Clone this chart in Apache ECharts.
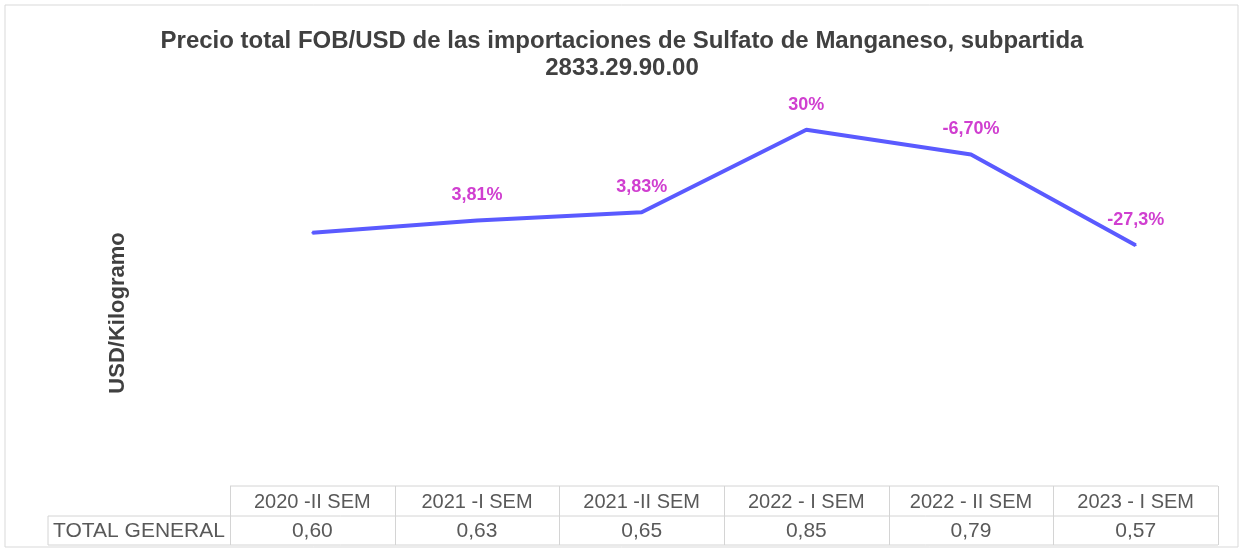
<!DOCTYPE html>
<html>
<head>
<meta charset="utf-8">
<script src="https://cdn.jsdelivr.net/npm/echarts@6/dist/echarts.min.js"></script>
<style>
  html, body { margin: 0; padding: 0; background: #fff; }
  #main { width: 1244px; height: 552px; }
</style>
</head>
<body>
<div id="main"></div>
<script>
var categories = ['2020 -II SEM', '2021 -I SEM', '2021 -II SEM', '2022 - I SEM', '2022 - II SEM', '2023 - I SEM'];
var precios = [0.60, 0.63, 0.65, 0.85, 0.79, 0.57];
var variaciones = ['', '3,81%', '3,83%', '30%', '-6,70%', '-27,3%'];
var rowLabel = 'TOTAL GENERAL';

var chart = echarts.init(document.getElementById('main'));
var font = '"Liberation Sans", Arial, sans-serif';

// table layout
var tblLeft = 48, colLeft = 230, tblRight = 1218;
var rowTop = 486, rowMid = 516, rowBot = 545;
var lineStyle = { stroke: '#d4d4d4', lineWidth: 1 };

var graphics = [
  { type: 'rect', shape: { x: 5, y: 5, width: 1233, height: 542 }, style: { fill: null, stroke: '#d9d9d9', lineWidth: 1 } },
  { type: 'line', shape: { x1: colLeft, y1: rowTop, x2: tblRight, y2: rowTop }, style: lineStyle },
  { type: 'line', shape: { x1: tblLeft, y1: rowMid, x2: tblRight, y2: rowMid }, style: lineStyle },
  { type: 'line', shape: { x1: tblLeft, y1: rowBot, x2: tblRight, y2: rowBot }, style: lineStyle },
  { type: 'line', shape: { x1: tblLeft, y1: rowMid, x2: tblLeft, y2: rowBot }, style: lineStyle },
  { type: 'text', x: 53, y: 531, style: { text: rowLabel, fill: '#595959', font: '21px ' + font, textVerticalAlign: 'middle' } },
  // y axis title
  { type: 'text', x: 118, y: 313, rotation: Math.PI / 2,
    style: { text: 'USD/Kilogramo', fill: '#404040', font: 'bold 22px ' + font, textAlign: 'center', textVerticalAlign: 'middle' } }
];
var colW = (tblRight - colLeft) / categories.length;
for (var i = 0; i <= categories.length; i++) {
  var x = Math.round(colLeft + i * colW) + 0.5;
  graphics.push({ type: 'line', shape: { x1: x, y1: rowTop, x2: x, y2: rowBot }, style: lineStyle });
}

chart.setOption({
  animation: false,
  title: {
    text: 'Precio total FOB/USD de las importaciones de Sulfato de Manganeso, subpartida\n2833.29.90.00',
    left: 'center',
    top: 23,
    textStyle: {
      fontFamily: font,
      fontSize: 24,
      fontWeight: 'bold',
      color: '#404040',
      lineHeight: 27
    }
  },
  grid: { left: colLeft, right: 1244 - tblRight, top: 68, bottom: 72 },
  xAxis: [
    {
      type: 'category',
      data: categories,
      position: 'bottom',
      axisLine: { show: false },
      axisTick: { show: false },
      axisLabel: { margin: 12, color: '#595959', fontSize: 20, fontFamily: font, interval: 0 }
    },
    {
      type: 'category',
      data: categories,
      position: 'bottom',
      offset: 29,
      axisLine: { show: false },
      axisTick: { show: false },
      axisLabel: {
        margin: 12, color: '#595959', fontSize: 21, fontFamily: font, interval: 0,
        formatter: function (v, idx) { return precios[idx].toFixed(2).replace('.', ','); }
      }
    }
  ],
  yAxis: {
    type: 'value',
    min: 0,
    max: 1,
    show: false
  },
  series: [{
    type: 'line',
    data: precios,
    symbol: 'circle',
    symbolSize: 2,
    showSymbol: true,
    itemStyle: { color: '#5a5aff' },
    lineStyle: { color: '#5a5aff', width: 4 },
    label: {
      show: true,
      position: 'top',
      distance: 15,
      color: '#d03fd0',
      fontSize: 18,
      fontWeight: 'bold',
      fontFamily: font,
      formatter: function (p) { return variaciones[p.dataIndex]; }
    }
  }],
  graphic: graphics
});
</script>
</body>
</html>
